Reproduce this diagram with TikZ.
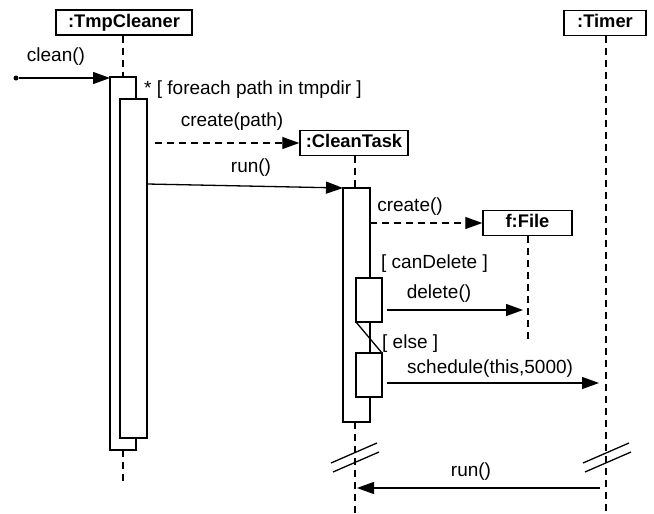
\documentclass[tikz,border=0pt]{standalone}
\usepackage{fontspec}
\setmainfont{Liberation Sans}
\usetikzlibrary{arrows.meta}
\begin{document}
\begin{tikzpicture}[x=1pt,y=-1pt,
  every node/.style={font=\fontsize{19}{21}\selectfont},
  obj/.style={draw, line width=1.4pt, inner sep=0pt, minimum height=25pt,
    text height=13pt, text depth=3.5pt, font=\fontsize{18.3}{20}\selectfont\bfseries},
  act/.style={draw, fill=white, line width=1.3pt, inner sep=0pt, outer sep=0pt, anchor=north west},
  life/.style={line width=1.3pt, dash pattern=on 7pt off 5pt},
  msg/.style={line width=1.3pt, -{Triangle[length=17pt,width=12pt]}},
  ret/.style={msg, dash pattern=on 7pt off 5pt},
  lbl/.style={inner sep=0pt, anchor=base},
  lblw/.style={inner sep=0pt, anchor=base west},
  brk/.style={line width=1.3pt}
]
\useasboundingbox (0,0) rectangle (654,514);

% participants
\node[obj, minimum width=136pt] (tc) at (124,22.5) {:TmpCleaner};
\node[obj, minimum width=82pt] (tm) at (605,23) {:Timer};
\node[obj, minimum width=108pt] (ct) at (354,143) {:CleanTask};
\node[obj, minimum width=89pt] (ff) at (527.5,223) {f:File};

% lifelines
\coordinate (tcEnd) at (123,483);
\coordinate (ctEnd) at (355,514);
\coordinate (tmEnd) at (606,514);
\coordinate (ffEnd) at (528,343);
\draw[life] (tc.south -| tcEnd) -- (tcEnd |- 0,77);
\draw[life] (tcEnd |- 0,450) -- (tcEnd);
\draw[life] (ct.south -| ctEnd) -- (ctEnd |- 0,188);
\draw[life] (ctEnd |- 0,422) -- (ctEnd);
\draw[life] (ff.south -| ffEnd) -- (ffEnd);
\draw[life] (tm.south -| tmEnd) -- (tmEnd);

% activations
\node[act, minimum width=26pt, minimum height=373pt] (a1) at (110,77) {};
\node[act, minimum width=27pt, minimum height=339pt] (a2) at (120,99) {};
\node[act, minimum width=27pt, minimum height=234pt] (a3) at (343,188) {};
\node[act, minimum width=26pt, minimum height=44pt] (b1) at (356,278) {};
\node[act, minimum width=26pt, minimum height=44pt] (b2) at (356,353) {};
\draw[line width=1.3pt] (b1.south west) -- (b2.north east);

% lifeline breaks
\draw[brk] (331,463) -- (377,443);
\draw[brk] (333,472) -- (379,452);
\draw[brk] (583,463) -- (629,443);
\draw[brk] (585,472) -- (631,452);

% messages
\node[circle, fill, inner sep=0pt, minimum size=5pt] (start) at (16,78) {};
\draw[msg] (start) -- (start -| a1.west);
\node[lbl] (lclean) at (56,61) {clean()};

\node[lblw] (lloop) at (144,94) {* [ foreach path in tmpdir ]};

\coordinate (cpS) at (155,143);
\draw[ret] (cpS) -- (ct.west);
\node[lbl] (lcp) at (232,126) {create(path)};

\coordinate (runS) at (147,184);
\draw[msg] (runS) -- (a3.north west);
\node[lbl] (lrun) at (251,172) {run()};

\coordinate (crS) at (370,223);
\draw[ret] (crS) -- (ff.west);
\node[lbl] (lcr) at (410,211) {create()};

\node[lblw] (lcan) at (381,268) {[ canDelete ]};
\coordinate (delS) at (387,310);
\coordinate (delE) at (523,310);
\draw[msg] (delS) -- (delE);
\node[lbl] (ldel) at (439,298) {delete()};

\node[lblw] (lelse) at (382,348) {[ else ]};
\coordinate (schS) at (387,383);
\coordinate (schE) at (599,383);
\draw[msg] (schS) -- (schE);
\node[lblw] (lsch) at (407,373) {schedule(this,5000)};

\coordinate (rbS) at (600,488);
\coordinate (rbE) at (357,488);
\draw[msg] (rbS) -- (rbE);
\node[lbl] (lrb) at (471,476) {run()};
\end{tikzpicture}
\end{document}
